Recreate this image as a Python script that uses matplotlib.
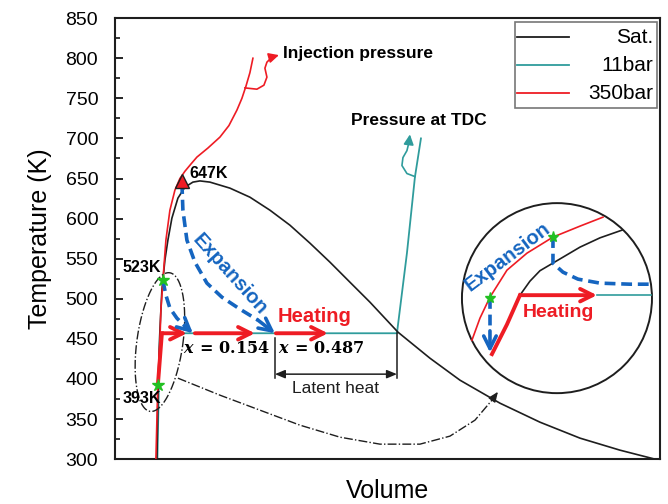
import numpy as np
import matplotlib
matplotlib.use("Agg")
import matplotlib.pyplot as plt
from matplotlib.patches import Ellipse, Rectangle
from matplotlib.lines import Line2D

plt.rcParams['font.family'] = ['Liberation Sans', 'DejaVu Sans']
plt.rcParams['mathtext.fontset'] = 'custom'
plt.rcParams['mathtext.rm'] = 'DejaVu Serif:bold'
plt.rcParams['mathtext.it'] = 'DejaVu Serif:italic:bold'

# ---------------- data (Volume in arbitrary units, Temperature in K) ----------------
sat_v = [157, 158, 159, 160, 162, 165, 168, 172, 178, 185, 193, 200, 210, 230, 250, 270, 290,
         310, 330, 350, 370, 398, 430, 460, 500, 540, 580, 620, 655]
sat_T = [300, 373.6, 423.5, 460.9, 510.8, 548.2, 573.1, 600.6, 625.5, 639.2, 645.5, 647, 645.5,
         638, 626.7, 610.5, 591.8, 569.4, 545.7, 520.7, 495.8, 458.4, 425.9, 398.5, 369.8,
         346.1, 326.2, 311.2, 300]

bar11_v = [157.5, 160, 278, 397, 407, 415, 421]
bar11_T = [300, 457, 457, 457, 557, 652, 700]

bar350_v = [156, 157, 158, 160, 161, 163, 166, 170, 175, 180, 185, 191, 197, 208, 220, 229,
            237, 242, 246, 250, 253]
bar350_T = [300, 348.6, 398.5, 448.4, 485.8, 523, 573.1, 610.5, 635.5, 650, 659, 668, 676.7,
            688, 701.6, 716, 735.3, 750, 765, 782, 800]

# process paths
heat_rise_v = [158, 162]
heat_rise_T = [393, 457]
heat_arrows = [(162, 187), (195, 255), (276, 328)]
heat_T = 457

exp1_v = [182, 183, 187, 195, 207, 222, 240, 258, 275]
exp1_T = [644.2, 610.5, 573.1, 545.7, 519.5, 502.0, 487.1, 473.4, 457]
exp2_v = [163, 166, 170, 177, 185, 193]
exp2_T = [523, 504.5, 488.3, 475.8, 465.9, 457]

crit_point = (182, 647)
stars_v = [163, 158]
stars_T = [523, 393]

# dash-dot connector to the zoom circle
conn_v = [178, 220, 260, 300, 340, 380, 420, 450, 475, 492, 498]
conn_T = [401, 379.8, 361.1, 342.4, 327.4, 318.7, 318.7, 328.7, 348.6, 373.6, 384]

# zoomed inset content
ins_red_v = [472, 480, 490, 507, 527, 553, 580, 603]
ins_red_T = [448.4, 475.8, 502, 535.7, 556.9, 576.9, 590.6, 601.8]
ins_sat_v = [520, 530, 540, 555, 580, 600, 622]
ins_sat_T = [504.5, 522, 535, 546, 564.4, 576, 585.6]
ins_thick_v = [492, 507, 520]
ins_thick_T = [431, 468, 504.5]
ins_exp_v = [553, 553, 563, 578, 600, 630, 650]
ins_exp_T = [576.9, 544.4, 533.2, 524.5, 519.5, 518.2, 518.2]
ins_stars_v = [490, 553]
ins_stars_T = [500.8, 576.9]

# pointer squiggles
inj_v = [245, 257, 264, 267, 265, 267, 272, 279]
inj_T = [763, 761.4, 766.4, 776.4, 787.6, 795.1, 801.4, 803.9]
tdc_v = [415, 407, 402, 403, 407, 409, 410]
tdc_T = [652.4, 656.2, 666.2, 676.1, 684.8, 695, 705]

RED = '#ee1c24'
TEAL = '#2f9c9c'
BLUE = '#1565c0'
BLK = '#1e1e1e'
GREEN = '#22c022'

fig = plt.figure(figsize=(6.68, 5.04), dpi=100)
ax = fig.add_axes([0.172, 0.089, 0.816, 0.875])
ax.set_xlim(115, 660)
ax.set_ylim(300, 850)

# main curves
ax.plot(bar11_v, bar11_T, color=TEAL, lw=1.3, zorder=2)
ax.plot(sat_v, sat_T, color=BLK, lw=1.2, zorder=2)
ax.plot(bar350_v, bar350_T, color=RED, lw=1.2, zorder=3)

# heating (red thick)
ax.plot(heat_rise_v, heat_rise_T, color=RED, lw=2.8, zorder=4)
for a, b in heat_arrows:
    ax.annotate('', xy=(b, heat_T), xytext=(a, heat_T),
                arrowprops=dict(arrowstyle='->,head_length=0.9,head_width=0.45', lw=2.8,
                                color=RED, shrinkA=0, shrinkB=0), zorder=5)

# expansion (blue dashed)
def dashed_arrow(xs, ys, lw=2.6):
    ax.plot(xs[:-1], ys[:-1], color=BLUE, lw=lw, ls=(0, (3, 1.6)), zorder=5)
    ax.annotate('', xy=(xs[-1], ys[-1]), xytext=(xs[-2], ys[-2]),
                arrowprops=dict(arrowstyle='->,head_length=0.9,head_width=0.45', lw=lw,
                                color=BLUE, shrinkA=0, shrinkB=0), zorder=6)

dashed_arrow(exp1_v, exp1_T)
dashed_arrow(exp2_v, exp2_T)

# markers
ax.plot(*crit_point, marker='^', ms=10, color=RED, mec=BLK, mew=1, zorder=7)
ax.plot(stars_v, stars_T, ls='none', marker='*', ms=9, color=GREEN, zorder=7)

# dash-dot ellipse around the heating region (drawn in screen-like units)
t = np.linspace(0, 2 * np.pi, 300)
phi = np.deg2rad(-8)
X = 23 * np.cos(t)
Y = 70 * np.sin(t)
ex = 160 + X * np.cos(phi) - Y * np.sin(phi)
ey = 446 + (X * np.sin(phi) + Y * np.cos(phi)) * 1.2472
ax.plot(ex, ey, color=BLK, lw=1, ls='-.', zorder=3)

ax.plot(conn_v[:-1], conn_T[:-1], color=BLK, lw=1, ls='-.', zorder=3)
ax.annotate('', xy=(conn_v[-1], conn_T[-1]), xytext=(conn_v[-2], conn_T[-2]),
            arrowprops=dict(arrowstyle='-|>,head_length=0.6,head_width=0.25', lw=1,
                            color=BLK, shrinkA=0, shrinkB=0))

# zoom circle
ax.add_patch(Ellipse((557, 500.8), 190, 237, fill=False, ec=BLK, lw=1.4, zorder=3))
ax.plot(ins_red_v, ins_red_T, color=RED, lw=1.2, zorder=4)
ax.plot(ins_sat_v, ins_sat_T, color=BLK, lw=1.2, zorder=4)
ax.plot(ins_thick_v, ins_thick_T, color=RED, lw=2.8, zorder=5)
ax.plot([597, 651], [504.5, 504.5], color=TEAL, lw=1.2, zorder=4)
ax.annotate('', xy=(597, 504.5), xytext=(520, 504.5),
            arrowprops=dict(arrowstyle='->,head_length=0.9,head_width=0.45', lw=2.8,
                            color=RED, shrinkA=0, shrinkB=0), zorder=5)
dashed_arrow([490, 490, 490], [500.8, 460, 433])
ax.plot(ins_exp_v, ins_exp_T, color=BLUE, lw=2.6, ls=(0, (3, 1.6)), zorder=5)
ax.plot(ins_stars_v, ins_stars_T, ls='none', marker='*', ms=8, color=GREEN, zorder=7)
ax.text(508, 552, 'Expansion', color=BLUE, fontsize=14.5, fontweight='bold', rotation=37,
        ha='center', va='center', zorder=8)
ax.text(558, 483.5, 'Heating', color=RED, fontsize=14, fontweight='bold',
        ha='center', va='center', zorder=8)

# latent heat bracket
ax.plot([275, 275], [401, 451], color=BLK, lw=1.1)
ax.plot([397, 397], [401, 457], color=BLK, lw=1.1)
ax.annotate('', xy=(397, 406), xytext=(275, 406),
            arrowprops=dict(arrowstyle='<|-|>,head_length=0.6,head_width=0.25', lw=1.1,
                            color=BLK, shrinkA=0, shrinkB=0))
ax.text(336, 388, 'Latent heat', fontsize=12.5, ha='center', va='center', color=BLK)

ax.plot(inj_v[:-1], inj_T[:-1], color=RED, lw=1.2)
ax.annotate('', xy=(inj_v[-1], inj_T[-1]), xytext=(inj_v[-2], inj_T[-2]),
            arrowprops=dict(arrowstyle='-|>,head_length=0.6,head_width=0.3', lw=1.2,
                            color=RED, shrinkA=0, shrinkB=0))
ax.plot(tdc_v[:-1], tdc_T[:-1], color=TEAL, lw=1.2)
ax.annotate('', xy=(tdc_v[-1], tdc_T[-1]), xytext=(tdc_v[-2], tdc_T[-2]),
            arrowprops=dict(arrowstyle='-|>,head_length=0.6,head_width=0.3', lw=1.2,
                            color=TEAL, shrinkA=0, shrinkB=0))

# text labels
ax.text(283, 806.3, 'Injection pressure', fontsize=12.5, fontweight='bold', va='center', ha='left')
ax.text(351, 722.8, 'Pressure at TDC', fontsize=12.5, fontweight='bold', va='center', ha='left')
ax.text(189, 656.7, '647K', fontsize=11.5, fontweight='bold', va='center', ha='left')
ax.text(123, 539.4, '523K', fontsize=11.5, fontweight='bold', va='center', ha='left')
ax.text(123, 376, '393K', fontsize=11.5, fontweight='bold', va='center', ha='left')
ax.text(230, 530, 'Expansion', color=BLUE, fontsize=14.5, fontweight='bold', rotation=-48,
        ha='center', va='center', zorder=8)
ax.text(278, 478.3, 'Heating', color=RED, fontsize=14.5, fontweight='bold', ha='left',
        va='center', zorder=8)
ax.text(183, 438.4, r'$x\,=\,0.154$', fontsize=11.5, ha='left', va='center')
ax.text(278, 438.4, r'$x\,=\,0.487$', fontsize=11.5, ha='left', va='center')

# axes styling
ax.set_xticks([])
ax.set_yticks(np.arange(300, 851, 50))
ax.set_yticks(np.arange(325, 850, 50), minor=True)
ax.tick_params(axis='y', which='major', direction='in', length=6, width=1.2, labelsize=14, pad=12)
ax.tick_params(axis='y', which='minor', direction='in', length=3.5, width=1.1)
ax.tick_params(axis='x', which='both', bottom=False)
for s in ax.spines.values():
    s.set_linewidth(1.5)
    s.set_color(BLK)
ax.set_ylabel('Temperature (K)', fontsize=18, labelpad=10)
ax.set_xlabel('Volume', fontsize=18, labelpad=14)

# legend (right-aligned labels)
ax.add_patch(Rectangle((0.734, 0.796), 0.2605, 0.195, transform=ax.transAxes, fill=True,
                       fc='white', ec='#777777', lw=1.2, zorder=9))
leg_labels = ['Sat.', '11bar', '350bar']
leg_colors = [BLK, TEAL, RED]
leg_y = [0.957, 0.893, 0.830]
for lab, c, yy in zip(leg_labels, leg_colors, leg_y):
    ax.add_line(Line2D([0.738, 0.833], [yy, yy], transform=ax.transAxes, color=c, lw=1.3, zorder=10))
    ax.text(0.987, yy, lab, transform=ax.transAxes, ha='right', va='center', fontsize=15, zorder=10)

fig.savefig('out.png', dpi=100)
